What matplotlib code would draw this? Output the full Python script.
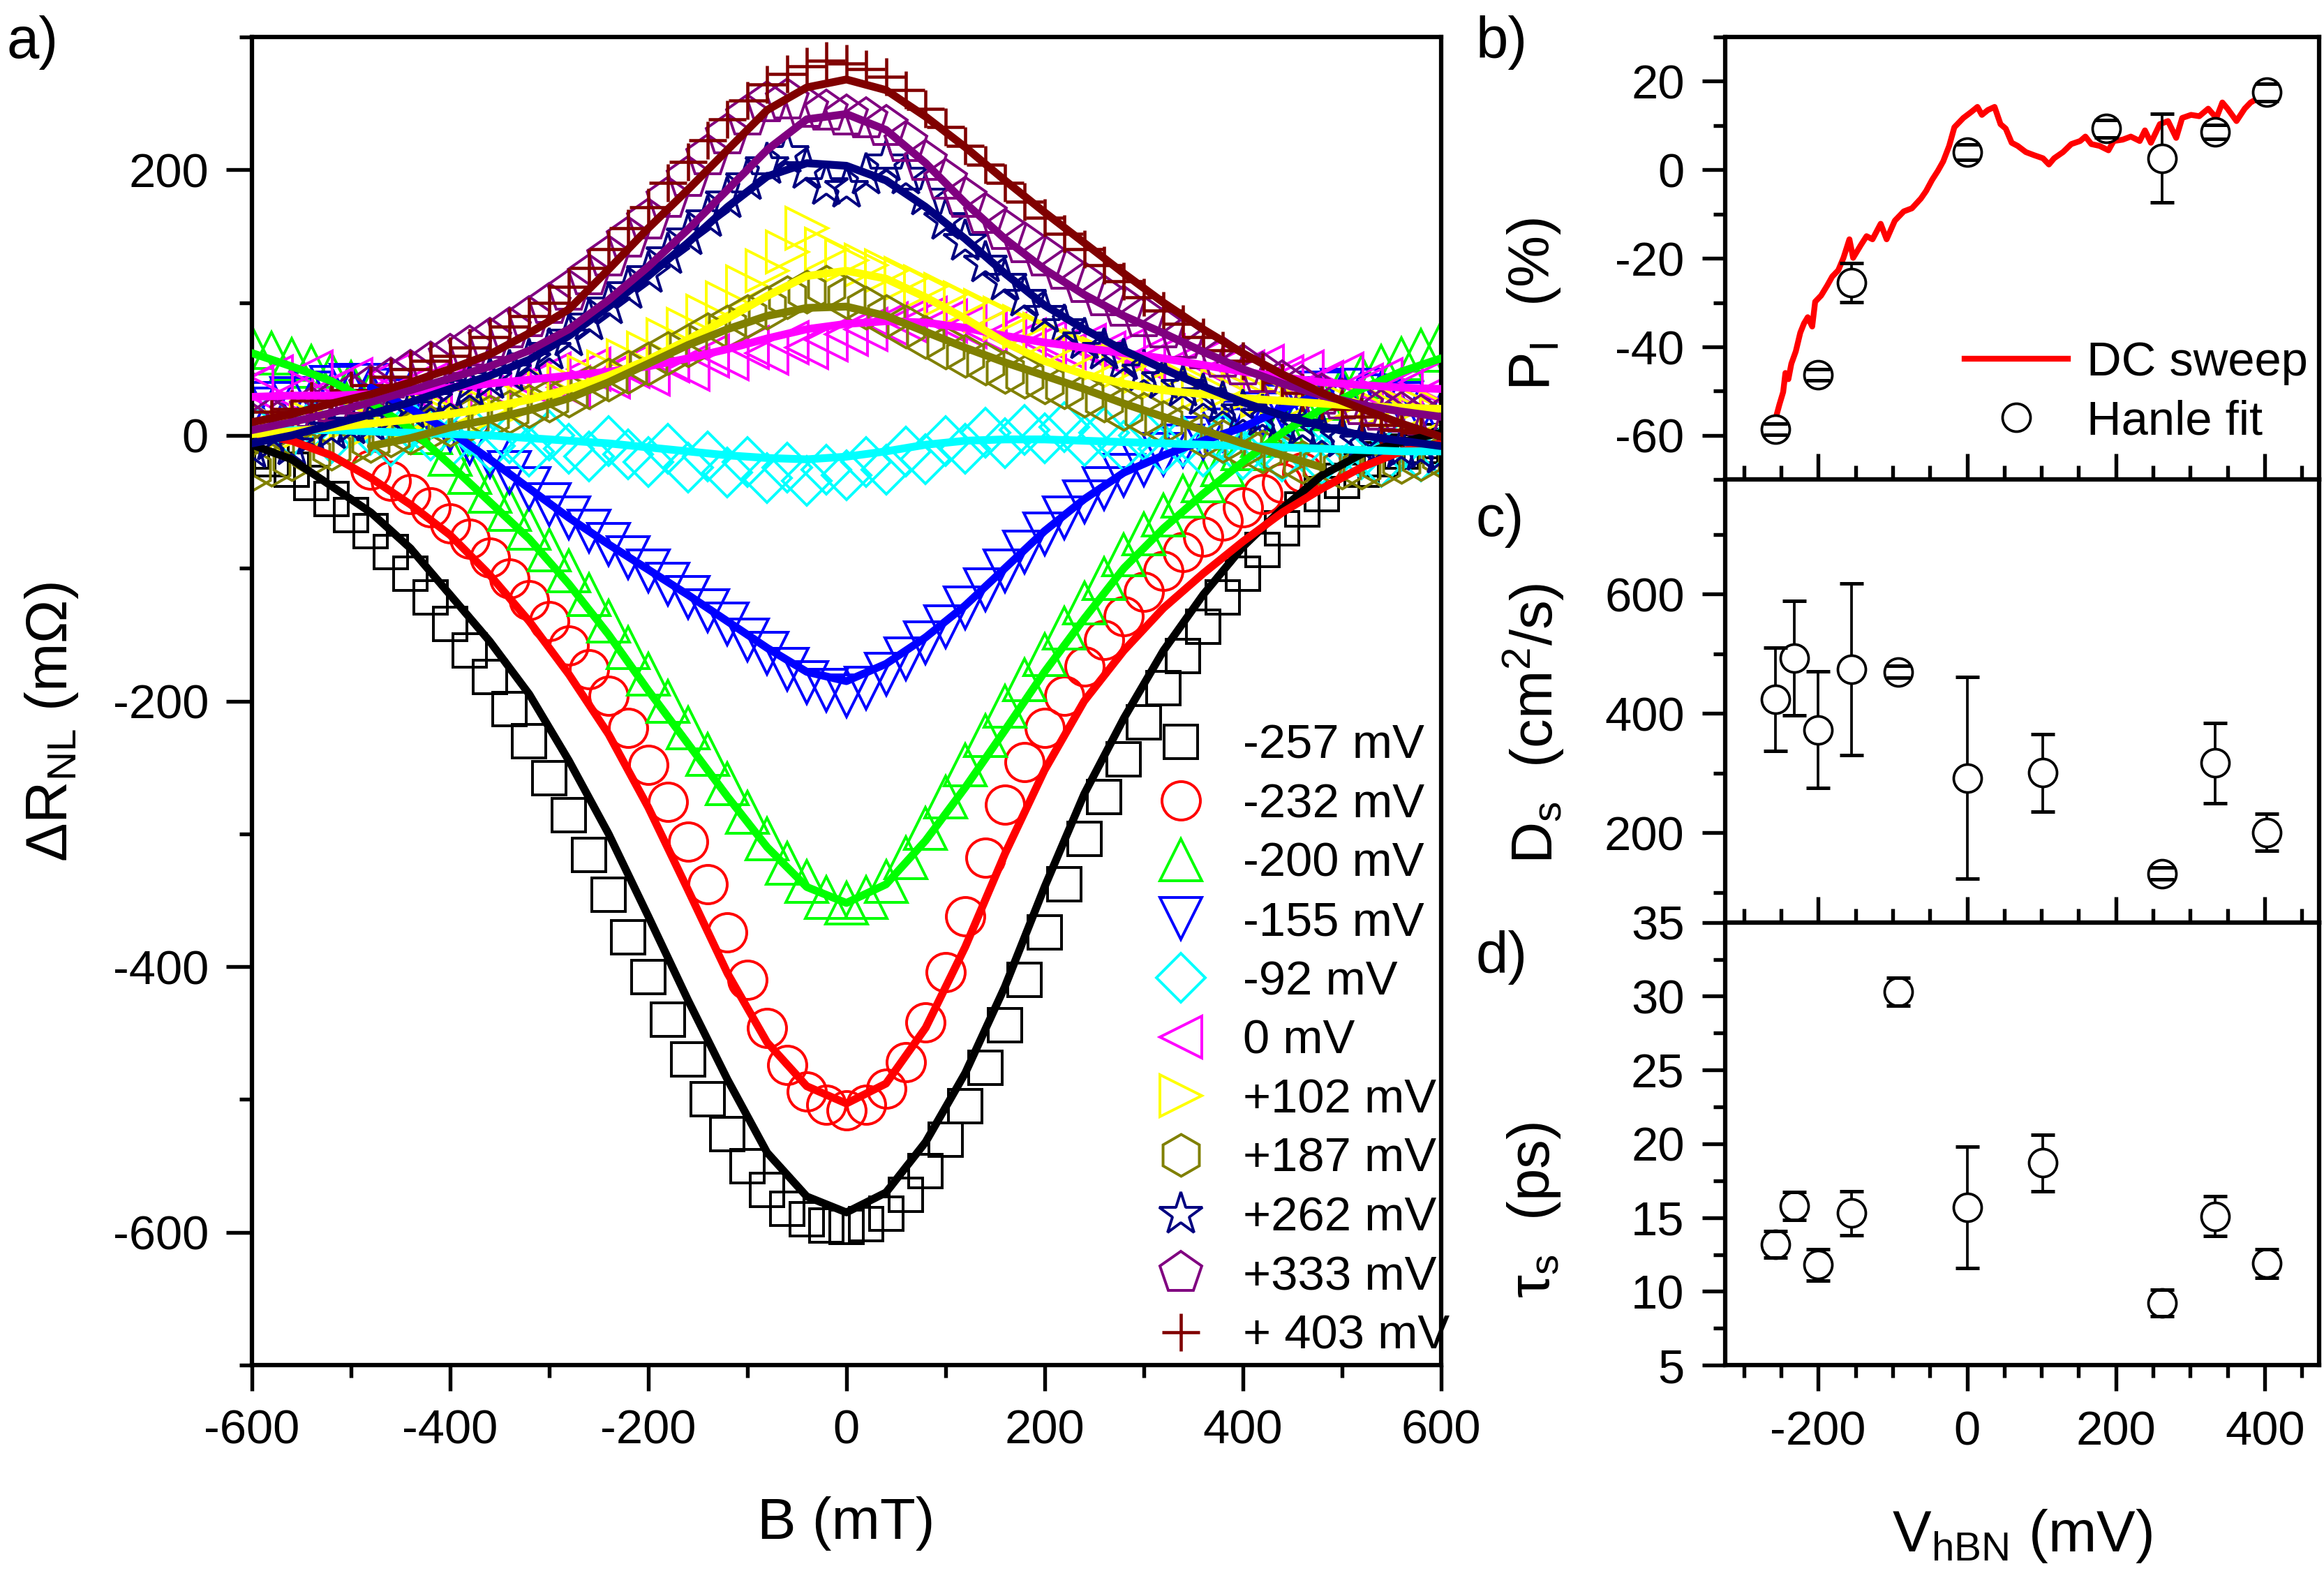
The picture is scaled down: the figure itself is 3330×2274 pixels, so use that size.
import numpy as np
import matplotlib
matplotlib.use('Agg')
import matplotlib.pyplot as plt
from matplotlib.ticker import MultipleLocator
from matplotlib.lines import Line2D

plt.rcParams['font.family'] = ['Liberation Sans', 'DejaVu Sans']
plt.rcParams['mathtext.default'] = 'regular'
plt.rcParams['axes.unicode_minus'] = False

nan = np.nan

# ---------------- panel a: Hanle curves (B in mT, dR_NL in mOhm) ----------------
labels = ['-257 mV', '-232 mV', '-200 mV', '-155 mV', '-92 mV', '0 mV',
          '+102 mV', '+187 mV', '+262 mV', '+333 mV', '+ 403 mV']
colors = ['#000000', '#ff0000', '#00ff00', '#0000ff', '#00ffff', '#ff00ff',
          '#ffff00', '#808000', '#000080', '#800080', '#800000']
markers = ['s', 'o', '^', 'v', 'D', '<', '>', 'h', '*', 'p', '+']
msizes = [11.5, 13.2, 14.5, 14.5, 11.9, 14.5, 14.5, 14.4, 15.4, 15.0, 13.0]

# measured points, every 20 mT from -600 to 600
b_data = list(range(-600, 601, 20))
r_data = [
    # -257 mV
    [-12, -18, -26, -36, -48, -60, -72, -88, -104, -122,
     -142, -162, -182, -206, -230, -258, -286, -316, -346, -378,
     -408, -440, -470, -500, -526, -550, -568, -582, -590, -595,
     -596, -594, -586, -572, -554, -530, -505, -476, -444, -410,
     -374, -338, -304, -272, -244, -216, -190, -166, -144, -122,
     -104, -86, -70, -56, -44, -34, -26, -18, -12, -8, -4],
    # -232 mV
    [nan, nan, nan, nan, nan, nan, -26, -34, -44, -54,
     -66, -78, -92, -108, -124, -140, -158, -176, -196, -220,
     -248, -276, -306, -338, -374, -410, -446, -474, -494, -504,
     -508, -504, -492, -472, -442, -404, -362, -318, -278, -246,
     -220, -196, -174, -154, -136, -118, -102, -88, -76, -64,
     -54, -44, -36, -28, -22, nan, nan, nan, nan, nan, nan],
    # -200 mV
    [66, 62, 57, 52, 46, 40, 32, 24, 14, 2,
     -14, -28, -42, -56, -70, -86, -102, -120, -140, -160,
     -180, -200, -220, -240, -262, -284, -304, -322, -336, -348,
     -352, -348, -336, -318, -296, -272, -248, -226, -204, -184,
     -165, -145, -126, -108, -90, -74, -60, -46, -34, -22,
     -10, 0, 10, 20, 28, 36, 44, 52, 58, 64, 70],
    # -155 mV
    [20, 24, 28, 32, 36, 38, 38, 34, 26, 16,
     4, -6, -16, -28, -40, -52, -62, -72, -82, -92,
     -102, -112, -122, -132, -142, -154, -164, -176, -186, -192,
     -196, -190, -180, -168, -156, -144, -130, -116, -102, -88,
     -74, -62, -50, -40, -30, -22, -14, -8, -2, 4,
     10, 16, 22, 28, 32, 34, 34, 30, 24, 18, 12],
    # -92 mV
    [6, 12, 2, 8, -2, 10, 4, -4, 8, 0,
     -6, 4, -8, -2, -12, 0, -10, -16, -4, -14,
     -20, -10, -24, -16, -28, -20, -32, -24, -34, -26,
     -30, -20, -26, -12, -18, -4, -10, 2, -6, 4,
     -2, 6, -4, 2, -8, 0, -10, -4, -12, -2,
     -14, -6, -16, -8, -18, -10, -14, -20, -8, -16, -12],
    # 0 mV
    [36, 44, 30, 48, 34, 42, 28, 46, 36, 40,
     32, 44, 38, 50, 40, 46, 36, 50, 44, 52,
     46, 56, 50, 60, 58, 66, 62, 70, 66, 72,
     76, 80, 84, 86, 88, 86, 82, 78, 76, 72,
     70, 66, 68, 62, 64, 58, 60, 54, 56, 50,
     48, 52, 44, 48, 40, 46, 38, 42, 36, 40, 34],
    # +102 mV
    [4, 8, 2, 10, 6, 14, 8, 16, 12, 18,
     14, 22, 18, 28, 26, 34, 38, 44, 48, 56,
     62, 72, 80, 90, 100, 112, 124, 138, 156, 140,
     132, 128, 124, 118, 112, 106, 100, 94, 88, 82,
     76, 70, 64, 58, 52, 48, 44, 40, 36, 34,
     32, 30, 28, 28, 26, 24, 24, 22, 20, 20, 18],
    # +187 mV
    [-26, -22, -18, -14, -10, -6, -4, 0, 2, 6,
     8, 12, 14, 18, 22, 26, 30, 36, 42, 48,
     54, 62, 68, 76, 82, 90, 96, 104, 108, 112,
     104, 96, 90, 82, 74, 66, 60, 54, 48, 44,
     40, 36, 30, 26, 20, 16, 10, 6, 0, -4,
     -8, -12, -16, -20, -22, -24, -24, -22, -20, -18, -16],
    # +262 mV
    [-10, -4, -8, 0, 4, 8, 10, 16, 20, 26,
     30, 36, 42, 48, 56, 64, 74, 86, 98, 110,
     122, 136, 150, 164, 178, 192, 204, 212, 200, 188,
     186, 196, 206, 196, 180, 162, 146, 130, 116, 104,
     92, 82, 72, 64, 56, 48, 42, 36, 30, 24,
     18, 14, 10, 6, 2, -2, -6, -8, -10, -12, -14],
    # +333 mV
    [8, 12, 16, 20, 24, 30, 36, 42, 48, 54,
     60, 66, 72, 80, 88, 98, 108, 120, 134, 148,
     162, 178, 194, 210, 226, 240, 250, 252, 246, 244,
     240, 238, 232, 220, 206, 192, 178, 166, 154, 144,
     134, 124, 114, 104, 96, 88, 80, 72, 64, 58,
     52, 46, 40, 36, 30, 26, 22, 18, 16, 14, 12],
    # +403 mV
    [12, 18, 20, 26, 30, 34, 38, 44, 50, 56,
     60, 66, 74, 82, 90, 100, 112, 126, 140, 156,
     172, 190, 206, 222, 238, 252, 264, 272, 278, 282,
     280, 276, 270, 260, 246, 232, 218, 204, 190, 176,
     164, 152, 140, 128, 116, 104, 94, 84, 74, 64,
     56, 48, 40, 32, 26, 20, 14, 8, 4, 2, 0],
]

# fitted curves, every 40 mT from -600 to 600
b_fit = list(range(-600, 601, 40))
r_fit = [
    [-7, -18, -38, -58, -85, -120, -155, -195, -245, -300, -362, -425, -485, -540, -573,
     -585, -570, -532, -480, -415, -340, -270, -213, -162, -120, -84, -55, -30, -14, -5, 2],
    [2, -4, -15, -32, -52, -75, -105, -140, -180, -225, -280, -342, -405, -457, -490,
     -503, -488, -446, -385, -315, -252, -200, -162, -130, -104, -80, -58, -40, -24, -12, -6],
    [62, 52, 41, 25, 5, -22, -50, -78, -112, -150, -192, -232, -272, -310, -340,
     -352, -338, -305, -265, -222, -178, -138, -100, -70, -44, -20, 2, 20, 35, 48, 58],
    [nan, nan, nan, 36, 20, 3, -18, -40, -62, -82, -101, -120, -140, -160, -178,
     -185, -172, -152, -128, -100, -72, -48, -28, -15, -4, 6, 20, 32, nan, nan, nan],
    [4, 4, 4, 3, 2, 1, 0, -2, -4, -6, -9, -12, -15, -17, -18,
     -16, -12, -7, -4, -3, -3, -4, -5, -6, -7, -8, -9, -10, -11, -12, -12],
    [29, 30, 30, 31, 33, 36, 39, 42, 45, 48, 52, 58, 65, 73, 80,
     84, 86, 85, 81, 75, 70, 66, 62, 58, 53, 48, 44, 40, 38, 36, 35],
    [1, 3, 6, 9, 12, 16, 21, 27, 35, 45, 57, 72, 88, 105, 120,
     124, 118, 104, 88, 70, 56, 46, 39, 34, 31, 28, 26, 24, 22, 21, 20],
    [nan, nan, nan, -8, -2, 6, 12, 19, 28, 40, 54, 68, 80, 90, 96,
     97, 90, 78, 66, 55, 45, 35, 24, 14, 4, -6, -15, -24, nan, nan, nan],
    [-6, 0, 8, 16, 25, 35, 45, 57, 75, 97, 120, 145, 172, 195, 205,
     203, 192, 172, 148, 122, 98, 80, 64, 50, 37, 25, 15, 7, 0, -4, -8],
    [4, 10, 17, 25, 34, 43, 52, 64, 80, 102, 127, 155, 185, 215, 238,
     242, 230, 205, 175, 148, 125, 106, 90, 77, 63, 50, 39, 30, 23, 18, 14],
    [10, 16, 24, 31, 40, 50, 61, 77, 95, 125, 156, 185, 215, 245, 262,
     268, 260, 240, 217, 192, 168, 145, 122, 100, 80, 62, 46, 32, 20, 9, -1],
]

# ---------------- panels b-d: vs V_hBN (mV) ----------------
v_hbn = [-257, -232, -200, -155, -92, 0, 102, 187, 262, 333, 403]
p_hanle = [-58.6, nan, -46.3, -25.5, nan, 4.0, nan, 9.3, 2.6, 8.6, 17.5]
p_err = [1.2, nan, 1.2, 4.4, nan, 1.7, nan, 2.0, 10.0, 1.6, 2.0]
d_s = [424, 493, 373, 474, 470, 292, 301, nan, 132, 317, 201]
d_err = [87, 96, 98, 144, 10, 169, 65, nan, 10, 67, 31]
tau_s = [13.2, 15.8, 11.8, 15.3, 30.3, 15.7, 18.7, nan, 9.2, 15.1, 11.9]
tau_err = [0.9, 0.95, 1.05, 1.5, 0.95, 4.1, 1.9, nan, 0.9, 1.35, 0.97]

dc_v = [-257, -252, -247, -244, -240, -236, -230, -224, -219, -214, -208, -204, -196,
        -188, -181, -173, -166, -158, -153, -143, -135, -127, -116, -108, -97, -85,
        -74, -62, -55, -47, -39, -32, -24, -17, -5, 6, 14, 20, 28, 37, 45, 52, 60,
        68, 79, 90, 102, 110, 117, 129, 140, 152, 159, 167, 178, 190, 197, 209, 220,
        232, 239, 247, 259, 270, 281, 289, 301, 312, 324, 335, 343, 350, 362, 373,
        381, 392, 400]
dc_p = [-56.1, -53.0, -50.2, -45.9, -47.3, -43.8, -41.0, -36.8, -34.7, -33.3, -35.4,
        -29.8, -28.4, -26.2, -24.1, -22.7, -19.9, -15.7, -19.9, -17.1, -15.0, -15.7,
        -12.2, -15.7, -11.5, -9.4, -8.7, -6.5, -4.8, -2.3, -0.2, 1.9, 5.4, 9.6, 11.7,
        13.1, 14.2, 12.4, 13.5, 14.2, 10.3, 9.3, 6.1, 5.4, 4.0, 3.3, 2.6, 1.2, 2.6,
        4.0, 5.8, 6.5, 7.5, 5.8, 5.4, 4.4, 6.5, 6.8, 7.5, 6.5, 8.9, 6.1, 10.3, 11.0,
        7.2, 11.7, 12.4, 12.1, 13.8, 11.7, 15.2, 13.8, 11.0, 13.8, 15.2, 16.3, 16.7]

# ---------------- figure ----------------
fig = plt.figure(figsize=(11.1, 7.58), dpi=300)

fs_tick = 16.5
fs_lab = 20
spine_w = 1.5

ax = fig.add_axes([0.1084, 0.1398, 0.5116, 0.8369])
for i in range(len(labels)):
    ax.plot(b_data, r_data[i], linestyle='none', marker=markers[i], ms=msizes[i],
            mfc='none', mec=colors[i], mew=1.1 if markers[i] == '+' else 0.95,
            zorder=2)
for i in range(len(labels)):
    ax.plot(b_fit, r_fit[i], color=colors[i], lw=2.7, solid_capstyle='round',
            solid_joinstyle='round', zorder=3)

ax.set_xlim(-600, 600)
ax.set_ylim(-700, 300)
ax.xaxis.set_major_locator(MultipleLocator(200))
ax.xaxis.set_minor_locator(MultipleLocator(100))
ax.yaxis.set_major_locator(MultipleLocator(200))
ax.yaxis.set_minor_locator(MultipleLocator(100))
ax.tick_params(which='both', direction='out', top=False, right=False,
               width=1.3, labelsize=fs_tick, pad=6)
ax.tick_params(which='major', length=8.9)
ax.tick_params(which='minor', length=4.4)
for s in ax.spines.values():
    s.set_linewidth(spine_w)

handles = [Line2D([], [], linestyle='none', marker=markers[i], ms=msizes[i],
                  mfc='none', mec=colors[i],
                  mew=1.1 if markers[i] == '+' else 0.95) for i in range(len(labels))]
fig.legend(handles, labels, loc='center left', bbox_to_anchor=(0.4874, 0.3440),
           frameon=False, fontsize=fs_tick, handlelength=2.0, handletextpad=0.3,
           labelspacing=0.3, borderpad=0, borderaxespad=0)

# right column
x0, w = 0.7423, 0.2556
h = 0.27897
ax_b = fig.add_axes([x0, 0.1398 + 2 * h, w, h])
ax_c = fig.add_axes([x0, 0.1398 + h, w, h])
ax_d = fig.add_axes([x0, 0.1398, w, h])

ax_b.plot(dc_v, dc_p, color='#ff0000', lw=2.0, zorder=2, label='DC sweep')

for a, yv, ye in [(ax_b, p_hanle, p_err), (ax_c, d_s, d_err), (ax_d, tau_s, tau_err)]:
    eb = a.errorbar(v_hbn, yv, yerr=ye, fmt='none', ecolor='k', elinewidth=0.9,
                    capsize=4.0, capthick=1.2, zorder=3)
    for c in eb[1]:
        c.set_zorder(5)
    a.plot(v_hbn, yv, linestyle='none', marker='o', ms=9.6, mfc='white', mec='k',
           mew=0.9, zorder=4, label='Hanle fit')

ax_b.set_ylim(-70, 30)
ax_b.yaxis.set_major_locator(MultipleLocator(20))
ax_b.yaxis.set_minor_locator(MultipleLocator(10))
ax_c.set_ylim(50, 792)
ax_c.yaxis.set_major_locator(MultipleLocator(200))
ax_c.yaxis.set_minor_locator(MultipleLocator(100))
ax_d.set_ylim(5, 35)
ax_d.yaxis.set_major_locator(MultipleLocator(5))
ax_d.yaxis.set_minor_locator(MultipleLocator(2.5))

for a in (ax_b, ax_c, ax_d):
    a.set_xlim(-325, 473)
    a.xaxis.set_major_locator(MultipleLocator(200))
    a.xaxis.set_minor_locator(MultipleLocator(50))
    a.tick_params(axis='y', which='both', direction='out', right=False,
                  width=1.3, labelsize=fs_tick, pad=6)
    a.tick_params(axis='y', which='major', length=8.0)
    a.tick_params(axis='y', which='minor', length=4.0)
    for s in a.spines.values():
        s.set_linewidth(spine_w)

for a in (ax_b, ax_c):
    a.tick_params(axis='x', which='both', direction='inout', top=False,
                  labelbottom=False, width=1.3)
    a.tick_params(axis='x', which='major', length=18)
    a.tick_params(axis='x', which='minor', length=9.6)
ax_d.tick_params(axis='x', which='both', direction='out', top=False,
                 width=1.3, labelsize=fs_tick, pad=6.5)
ax_d.tick_params(axis='x', which='major', length=8.9)
ax_d.tick_params(axis='x', which='minor', length=4.4)

hb = [Line2D([], [], color='#ff0000', lw=2.0),
      Line2D([], [], linestyle='none', marker='o', ms=9.6, mfc='white', mec='k', mew=0.9)]
fig.legend(hb, ['DC sweep', 'Hanle fit'], loc='center left',
           bbox_to_anchor=(0.8453, 0.7529), frameon=False, fontsize=fs_tick,
           handlelength=2.15, handletextpad=0.4, labelspacing=0.3,
           borderpad=0, borderaxespad=0)

# labels
fig.text(0.364, 0.0303, 'B (mT)', fontsize=fs_lab, ha='center', va='baseline')
fig.text(0.870, 0.0225, r'V$_{hBN}$ (mV)', fontsize=fs_lab, ha='center', va='baseline')
fig.text(0.0223, 0.545, r'$\Delta$R$_{NL}$ (m$\Omega$)', fontsize=fs_lab,
         rotation=90, ha='center', va='center')
fig.text(0.660, 0.808, r'P$_I$  (%)', fontsize=fs_lab, rotation=90,
         ha='center', va='center')
fig.text(0.660, 0.544, r'D$_s$  (cm$^2$/s)', fontsize=fs_lab, rotation=90,
         ha='center', va='center')
fig.text(0.660, 0.2375, r'$\tau_s$  (ps)', fontsize=fs_lab, rotation=90,
         ha='center', va='center')

fig.text(0.003, 0.9635, 'a)', fontsize=fs_lab, va='baseline')
fig.text(0.635, 0.9635, 'b)', fontsize=fs_lab, va='baseline')
fig.text(0.635, 0.6623, 'c)', fontsize=fs_lab, va='baseline')
fig.text(0.635, 0.387, 'd)', fontsize=fs_lab, va='baseline')

fig.savefig('out.png', dpi=300)
